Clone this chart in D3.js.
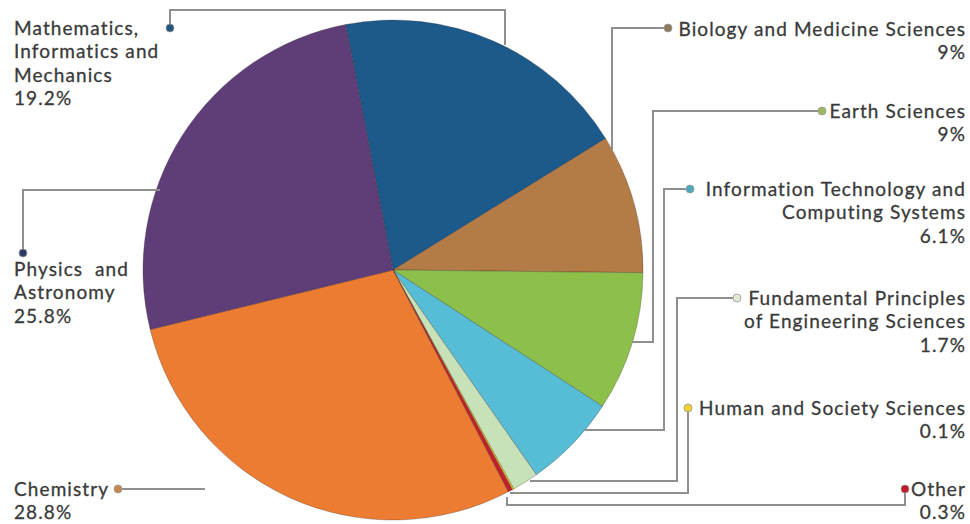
<!DOCTYPE html>
<html>
<head>
<meta charset="utf-8">
<script src="https://cdn.jsdelivr.net/npm/d3@7"></script>
<style>
  html, body { margin: 0; padding: 0; background: #fff; }
  svg { display: block; }
  text { font-family: Lato, "Open Sans", sans-serif; fill: #3a3a3a; white-space: pre; }
</style>
</head>
<body>
<svg id="chart" width="970" height="524"></svg>
<script>
// Share of publications by field (%), clockwise from the top
const fields = [
  "Mathematics, Informatics and Mechanics",
  "Biology and Medicine Sciences",
  "Earth Sciences",
  "Information Technology and Computing Systems",
  "Fundamental Principles of Engineering Sciences",
  "Human and Society Sciences",
  "Other",
  "Chemistry",
  "Physics and Astronomy"
];
const shares = [19.2, 9, 9, 6.1, 1.7, 0.1, 0.3, 28.8, 25.8];
const shareLabels = ["19.2%", "9%", "9%", "6.1%", "1.7%", "0.1%", "0.3%", "28.8%", "25.8%"];
// Label text broken into lines as printed
const labelLines = [
  ["Mathematics,", "Informatics and", "Mechanics"],
  ["Biology and Medicine Sciences"],
  ["Earth Sciences"],
  ["Information Technology and", "Computing Systems"],
  ["Fundamental Principles", "of Engineering Sciences"],
  ["Human and Society Sciences"],
  ["Other"],
  ["Chemistry"],
  ["Physics  and", "Astronomy"]
];

const sliceColors = ["#1b5a8b", "#b37c46", "#8cc04b", "#57bdd6", "#c7e2b8", "#f3cb1c", "#c2202b", "#ec7c31", "#5f3d78"];
const dotColors   = ["#21557e", "#8c7a58", "#9bbb62", "#4ea7bb", "#dfe9d6", "#eed12a", "#c0182c", "#c4874c", "#2f3a66"];

const svg = d3.select("#chart");
const cx = 393, cy = 270, R = 250;

const pie = d3.pie()
  .value(d => d)
  .sort(null)
  .startAngle(-0.19)
  .endAngle(2 * Math.PI - 0.19);
const arc = d3.arc().innerRadius(0).outerRadius(R);

const gPie = svg.append("g").attr("transform", `translate(${cx},${cy})`);
gPie.selectAll("path")
  .data(pie(shares))
  .join("path")
  .attr("d", arc)
  .attr("fill", (d, i) => sliceColors[i])
  .attr("stroke", "rgba(40,30,30,0.35)")
  .attr("stroke-width", 0.8);

// Label layout: anchor, first baseline, leader line path (ending at the dot)
const layout = [
  { x: 14,  y: 35,  anchor: "start", dot: [170, 28],  path: [[505, 45], [505, 10], [170, 10], [170, 28]] },
  { x: 966, y: 36,  anchor: "end",   dot: [668, 28],  path: [[612, 150], [612, 28], [668, 28]] },
  { x: 966, y: 118, anchor: "end",   dot: [822, 111], path: [[632, 342], [653, 342], [653, 111], [822, 111]] },
  { x: 966, y: 196, anchor: "end",   dot: [690, 189], path: [[585, 430], [664, 430], [664, 189], [690, 189]] },
  { x: 966, y: 305, anchor: "end",   dot: [737, 298], path: [[530, 481], [677, 481], [677, 298], [737, 298]] },
  { x: 966, y: 415, anchor: "end",   dot: [688, 408], path: [[510, 493], [688, 493], [688, 408]] },
  { x: 966, y: 496, anchor: "end",   dot: [905, 489], path: [[507, 497], [507, 505], [905, 505], [905, 489]] },
  { x: 14,  y: 496, anchor: "start", dot: [118, 489], path: [[205, 489], [118, 489]] },
  { x: 14,  y: 276, anchor: "start", dot: [23, 253],  path: [[160, 190], [23, 190], [23, 253]] }
];

const line = d3.line();
const gLab = svg.append("g");

fields.forEach((f, i) => {
  const L = layout[i];
  gLab.append("path")
    .attr("d", line(L.path))
    .attr("fill", "none")
    .attr("stroke", "#8f8f8f")
    .attr("stroke-width", 2);
  gLab.append("circle")
    .attr("cx", L.dot[0]).attr("cy", L.dot[1]).attr("r", 4)
    .attr("fill", dotColors[i])
    .attr("stroke", "#9a9a9a")
    .attr("stroke-width", 0.8);
  const t = gLab.append("text")
    .attr("x", L.x).attr("y", L.y)
    .attr("text-anchor", L.anchor)
    .attr("font-size", 19)
    .attr("letter-spacing", 1.1)
    .attr("stroke", "#3a3a3a")
    .attr("stroke-width", 0.3);
  const lines = labelLines[i].concat([shareLabels[i]]);
  lines.forEach((s, k) => {
    t.append("tspan")
      .attr("x", L.x)
      .attr("dy", k === 0 ? 0 : 23.3)
      .text(s);
  });
});
</script>
</body>
</html>
